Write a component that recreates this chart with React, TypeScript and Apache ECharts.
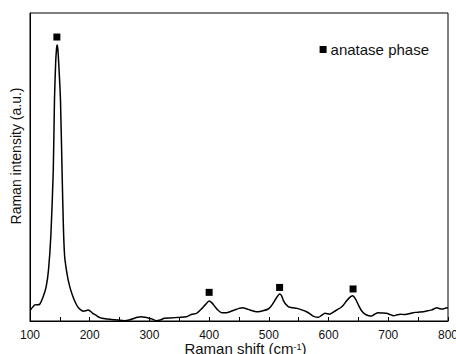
import React, { useEffect, useRef } from "react";
import * as echarts from "echarts";

const shift = [
  101, 108, 116, 122, 127, 131, 135, 139, 141, 143, 144.5, 145.5, 146.5, 148, 151, 154, 156, 158, 161, 164, 168, 172, 176, 180, 185, 189, 193, 197, 201, 205, 211, 217, 226, 236, 247, 258, 266, 275, 280, 286, 293, 300, 305, 311, 318, 325, 335, 351, 362, 371, 379, 388, 394, 400, 405, 410, 415, 421, 429, 436, 443, 450, 456, 462, 468, 475, 482, 490, 499, 503, 507, 512, 518, 521, 524, 528, 533, 540, 547, 555, 563, 569, 574, 583, 588, 594, 602, 608, 614, 620, 625, 630, 635, 640, 645, 650, 655, 661, 666, 672, 677, 683, 690, 697, 703, 709, 715, 720, 726, 731, 738, 745, 752, 759, 766, 773, 778, 781, 786, 792, 796, 800
];
const intensity = [
  3.6, 5.2, 5.4, 7.9, 11.1, 16.6, 28, 49, 72, 84, 88.5, 89.6, 88.5, 84, 72, 46, 30, 21, 16.5, 13.3, 10.2, 7.9, 6.0, 4.6, 3.6, 3.2, 3.3, 3.6, 3.2, 2.5, 1.8, 1.1, 0.7, 0.5, 0.3, 0.1, 0.3, 0.9, 1.2, 1.4, 1.2, 0.9, 0.6, 0.1, 0.3, 0.9, 1.0, 1.2, 1.4, 2.2, 2.5, 4.1, 5.4, 6.5, 5.8, 4.6, 3.5, 2.7, 2.7, 3.1, 3.6, 4.1, 4.3, 4.0, 3.6, 3.2, 3.0, 3.3, 3.9, 4.6, 5.7, 7.3, 8.8, 8.3, 6.8, 5.5, 4.6, 4.3, 4.1, 3.6, 3.0, 2.3, 1.6, 1.2, 1.8, 2.5, 2.2, 2.9, 3.6, 4.3, 5.2, 6.5, 7.6, 8.2, 7.2, 5.2, 3.4, 2.2, 1.8, 1.6, 2.2, 2.7, 2.6, 2.5, 2.1, 1.7, 2.0, 2.2, 2.1, 2.2, 2.5, 2.8, 2.9, 3.0, 3.3, 3.6, 4.1, 4.3, 4.0, 3.9, 4.2, 4.3
];

const markerShift = [145, 400, 518, 641];
const markerIntensity = [92.2, 9.3, 10.9, 10.4];

const xTicks = [100, 200, 300, 400, 500, 600, 700, 800];

export default function App() {
  const ref = useRef<HTMLDivElement>(null);
  useEffect(() => {
    if (!ref.current) return;
    const chart = echarts.init(ref.current, null, { renderer: "svg" });
    const font = "'Liberation Sans', Arial, sans-serif";
    chart.setOption({
      animation: false,
      backgroundColor: "#ffffff",
      textStyle: { fontFamily: font },
      grid: {
        left: 30,
        right: 8,
        top: 13,
        bottom: 33,
        containLabel: false,
        outerBoundsMode: "none",
        show: true,
        borderColor: "#000",
        borderWidth: 1,
      },
      legend: {
        data: [{ name: "anatase phase", icon: "rect", itemStyle: { color: "#000", opacity: 1 } }],
        right: 22,
        top: 37,
        itemWidth: 7,
        itemHeight: 7,
        itemGap: 6,
        textStyle: { fontSize: 15, color: "#111", fontFamily: font, padding: [0, 0, 0, -1] },
      },
      xAxis: {
        type: "value",
        min: xTicks[0],
        max: xTicks[xTicks.length - 1],
        interval: 100,
        axisLine: { lineStyle: { color: "#000", width: 1 } },
        axisTick: { inside: true, length: 4, lineStyle: { color: "#000" } },
        minorTick: { show: true, splitNumber: 2, length: 4, lineStyle: { color: "#000" } },
        splitLine: { show: false },
        axisLabel: { color: "#111", fontSize: 12, lineHeight: 12, margin: 8, fontFamily: font },
        name: "Raman shift (cm{sup|-1})",
        nameLocation: "middle",
        nameGap: 21,
        nameMoveOverlap: false,
        nameTextStyle: {
          fontSize: 15,
          lineHeight: 13,
          color: "#111",
          fontFamily: font,
          padding: [0, 0, 0, 13],
          rich: {
            sup: { fontSize: 9, lineHeight: 9, verticalAlign: "top", padding: [0, 0, 4, 0], color: "#111", fontFamily: font },
          },
        },
      },
      yAxis: {
        type: "value",
        min: 0,
        max: 100,
        axisLine: { show: true, lineStyle: { color: "#000", width: 1 } },
        axisTick: { show: false },
        axisLabel: { show: false },
        splitLine: { show: false },
        name: "Raman intensity (a.u.)",
        nameLocation: "middle",
        nameGap: 7,
        nameMoveOverlap: false,
        nameTextStyle: { fontSize: 14, color: "#111", fontFamily: font, padding: [0, 0, 0, 22] },
      },
      series: [
        {
          type: "line",
          name: "spectrum",
          data: shift.map((x, i) => [x, intensity[i]]),
          showSymbol: false,
          smooth: 0.2,
          lineStyle: { color: "#000", width: 1.5 },
          itemStyle: { color: "#000" },
        },
        {
          type: "scatter",
          name: "anatase phase",
          data: markerShift.map((x, i) => [x, markerIntensity[i]]),
          symbol: "rect",
          symbolSize: 7,
          itemStyle: { color: "#000", opacity: 1 },
        },
      ],
    });
    return () => chart.dispose();
  }, []);
  return <div ref={ref} style={{ width: 456, height: 354, position: "absolute", left: 0, top: 0 }} />;
}
